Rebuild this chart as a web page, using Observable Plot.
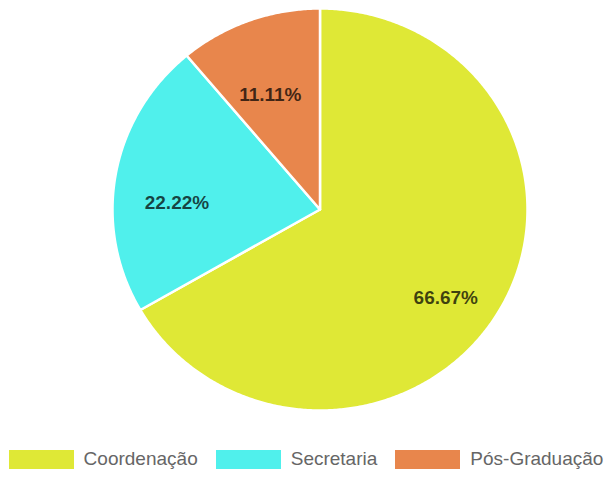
<!DOCTYPE html>
<html>
<head>
<meta charset="utf-8">
<script src="https://cdn.jsdelivr.net/npm/d3@7"></script>
<script src="https://cdn.jsdelivr.net/npm/@observablehq/plot@0.6"></script>
<style>
  html, body { margin: 0; padding: 0; background: #fff; }
  #wrap { position: relative; width: 612px; height: 477px; font-family: "Liberation Sans", Arial, sans-serif; }
  #legend { position: absolute; left: 0; top: 448px; width: 612px; display: flex; justify-content: center; align-items: center; }
  .item { display: flex; align-items: center; margin: 0 9px; }
  .sw { width: 65px; height: 19px; margin-right: 10px; }
  .lb { font-size: 19px; color: #666; white-space: nowrap; }
</style>
</head>
<body>
<div id="wrap"><div id="chart"></div><div id="legend"></div></div>
<script>
const categories = ["Coordenação", "Secretaria", "Pós-Graduação"];
const values = [6, 2, 1];
const colors = ["#dfe836", "#50f0ec", "#e8864c"];

const total = d3.sum(values);
const slices = [];
let acc = 0;
categories.forEach((c, i) => {
  const a0 = acc / total * 2 * Math.PI;
  acc += values[i];
  const a1 = acc / total * 2 * Math.PI;
  slices.push({cat: c, a0, a1, pct: (values[i] / total * 100).toFixed(2) + "%"});
});

const pts = [];
for (const s of slices) {
  pts.push({cat: s.cat, x: 0, y: 0});
  const n = Math.max(2, Math.ceil((s.a1 - s.a0) / (Math.PI / 360)));
  for (let k = 0; k <= n; k++) {
    const a = s.a0 + (s.a1 - s.a0) * k / n;
    pts.push({cat: s.cat, x: Math.sin(a), y: Math.cos(a)});
  }
  pts.push({cat: s.cat, x: 0, y: 0});
}

const labels = slices.map(s => {
  const m = (s.a0 + s.a1) / 2;
  return {cat: s.cat, text: s.pct, x: 0.7 * Math.sin(m), y: 0.7 * Math.cos(m)};
});

const plot = Plot.plot({
  width: 612,
  height: 440,
  margin: 0,
  x: {domain: [-1, 1], range: [112, 527], axis: null},
  y: {domain: [-1, 1], range: [410, 8], axis: null},
  color: {domain: categories, range: colors},
  style: {fontFamily: "Liberation Sans, Arial, sans-serif", background: "#fff"},
  marks: [
    Plot.line(pts, {x: "x", y: "y", z: "cat", fill: "cat", stroke: "white", strokeWidth: 2.5, strokeLinejoin: "round"}),
    Plot.text(labels, {x: "x", y: "y", text: "text", dy: 18, fill: "#000", fillOpacity: 0.72, fontSize: 19, fontWeight: "bold"})
  ]
});
document.getElementById("chart").appendChild(plot);

const legend = document.getElementById("legend");
categories.forEach((c, i) => {
  const it = document.createElement("div");
  it.className = "item";
  const sw = document.createElement("div");
  sw.className = "sw";
  sw.style.background = colors[i];
  const lb = document.createElement("span");
  lb.className = "lb";
  lb.textContent = c;
  it.appendChild(sw); it.appendChild(lb);
  legend.appendChild(it);
});
</script>
</body>
</html>
